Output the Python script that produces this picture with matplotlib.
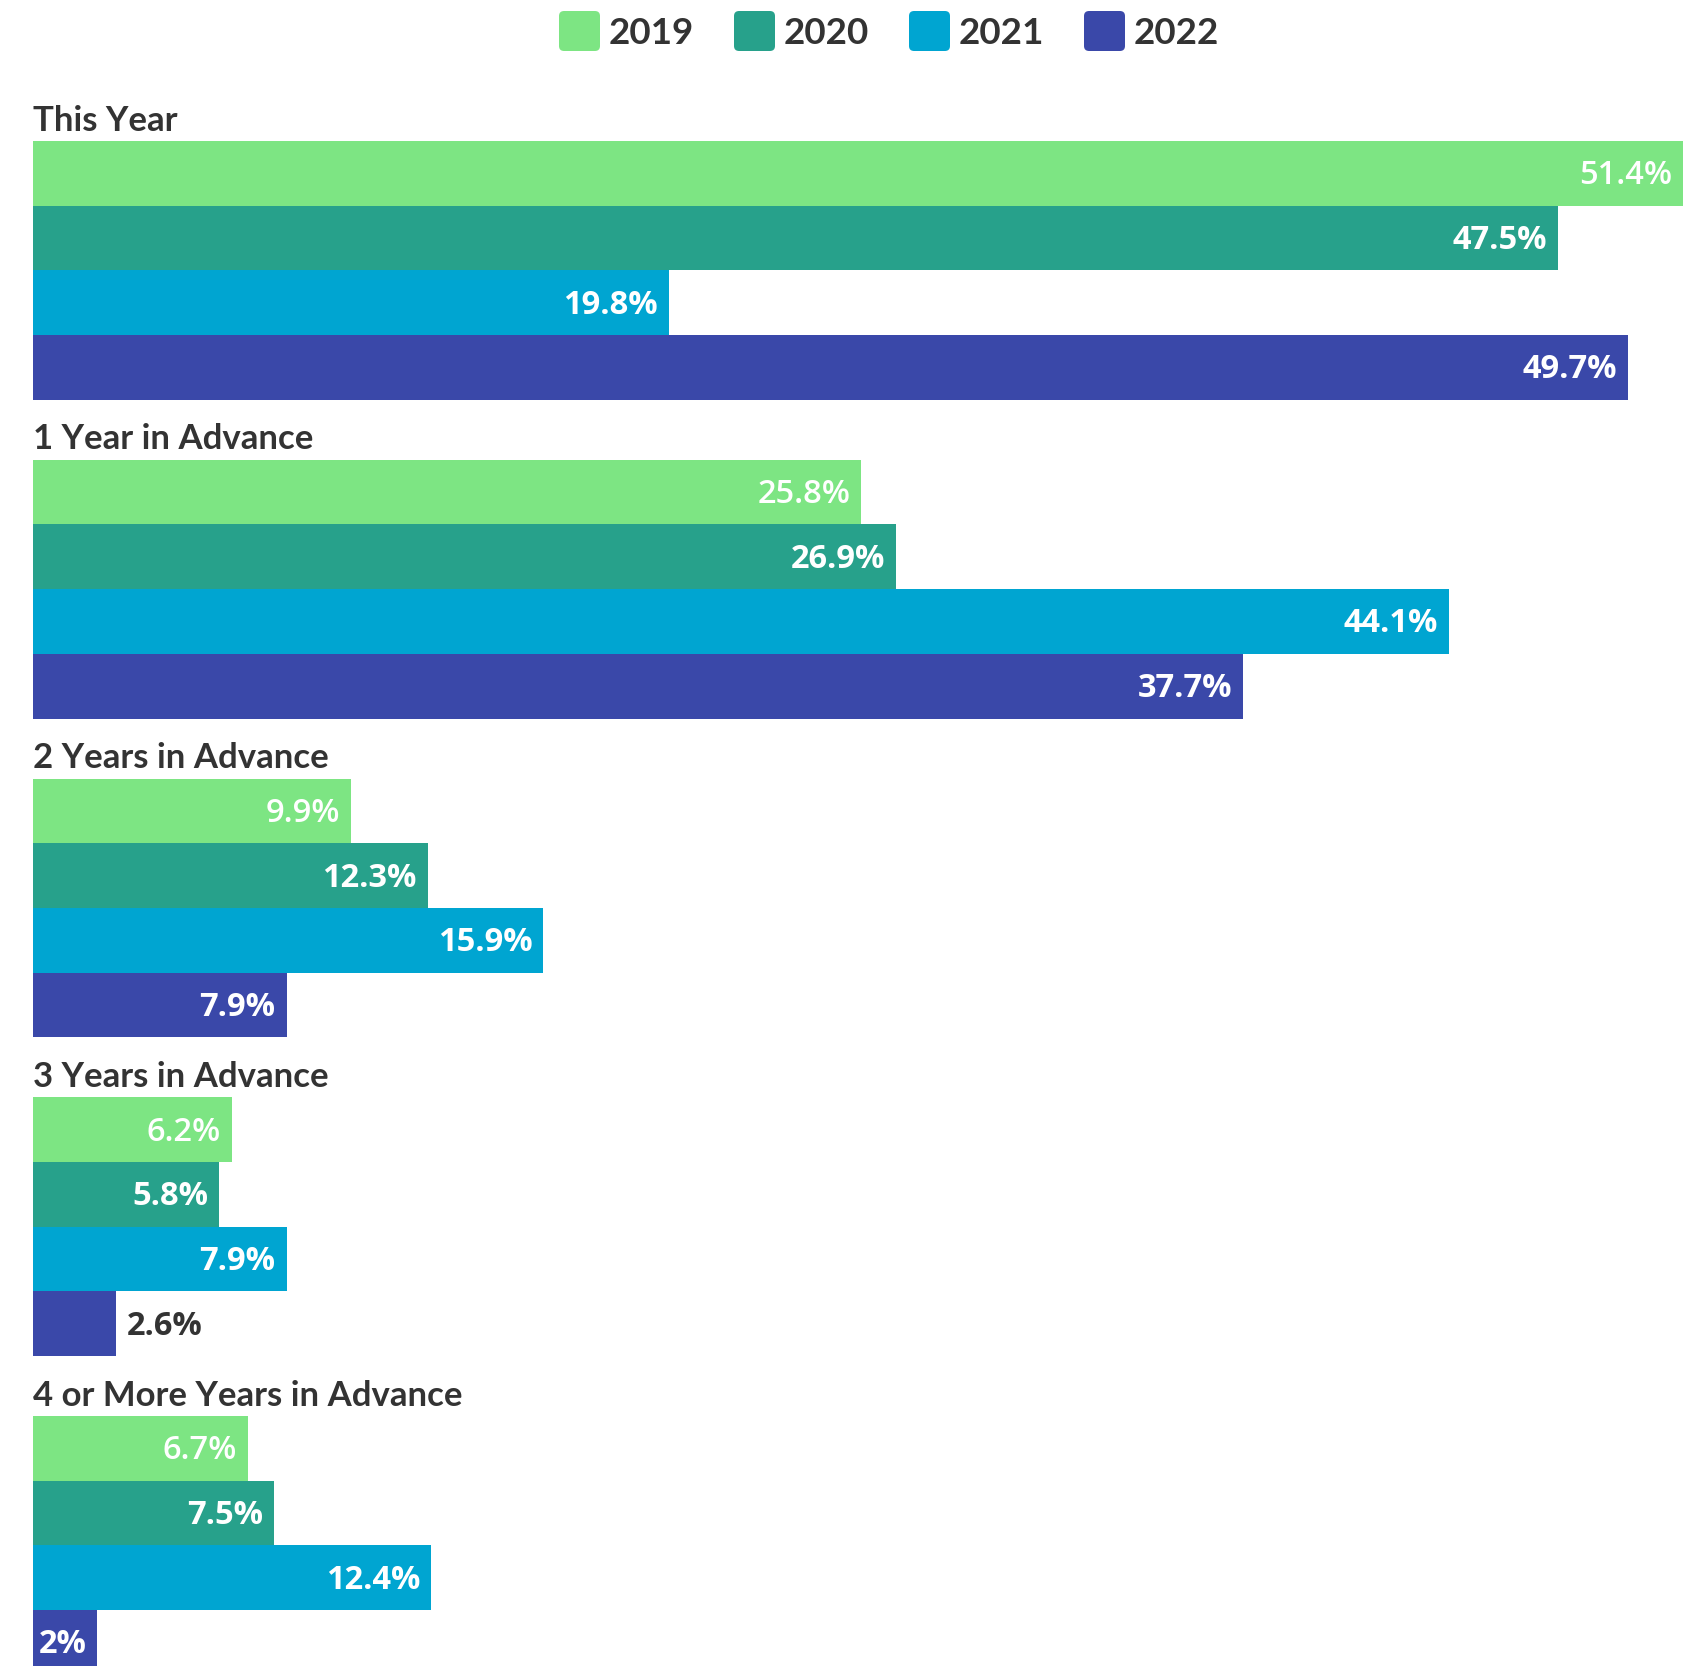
import numpy as np
import matplotlib.pyplot as plt
from matplotlib.patches import FancyBboxPatch

# booking horizon categories and shares per survey year
categories = ["This Year", "1 Year in Advance", "2 Years in Advance",
              "3 Years in Advance", "4 or More Years in Advance"]
years = ["2019", "2020", "2021", "2022"]
share_2019 = [51.4, 25.8, 9.9, 6.2, 6.7]
share_2020 = [47.5, 26.9, 12.3, 5.8, 7.5]
share_2021 = [19.8, 44.1, 15.9, 7.9, 12.4]
share_2022 = [49.7, 37.7, 7.9, 2.6, 2]
series = [share_2019, share_2020, share_2021, share_2022]
colors = ["#7de583", "#27a18b", "#00a5d1", "#3a48a9"]
label_weights = ["semibold", "bold", "bold", "bold"]

plt.rcParams['font.family'] = ['Lato', 'DejaVu Sans']
value_font = ['Open Sans', 'DejaVu Sans']
dark = "#333333"

W, H = 1699, 1666
fig = plt.figure(figsize=(W / 100, H / 100), dpi=100)

left_px, top_px = 33, 141
bar_px = 64.7
pitch = 318.75 / bar_px          # group spacing in bar units
ax = fig.add_axes([left_px / W, 0, 1 - left_px / W, 1 - top_px / H])
ax_h_units = (H - top_px) / bar_px
ax.set_ylim(ax_h_units, 0)
ax.set_xlim(0, (W - left_px) / 32.1)
ax.axis("off")

fig.canvas.draw()
renderer = fig.canvas.get_renderer()
px_per_unit = ax.get_window_extent().width / (ax.get_xlim()[1])

for g, cat in enumerate(categories):
    g0 = g * pitch
    ax.text(0, g0 - 0.16, cat, fontsize=25, fontweight="bold", color=dark,
            va="baseline", ha="left", clip_on=False)
    for i, vals in enumerate(series):
        v = vals[g]
        yc = g0 + i + 0.5
        ax.barh(yc, v, height=1.0, color=colors[i], edgecolor="none")
        label = f"{v:g}%"
        t = ax.text(v - 11 / px_per_unit, yc + 0.17, label, fontsize=23.5,
                    family=value_font, fontweight=label_weights[i],
                    color="white", ha="right", va="baseline")
        tw = t.get_window_extent(renderer).width
        # labels that don't fit inside the bar go just past its end
        if tw + 14 > v * px_per_unit:
            t.set_ha("left")
            t.set_x(v + 10 / px_per_unit)
            t.set_color(dark)
            t.set_fontweight("bold")

# legend across the top
leg_x = [559, 734, 909, 1084]
for x, yr, c in zip(leg_x, years, colors):
    fig.patches.append(FancyBboxPatch(
        (x / W, 1 - 51 / H), 41 / W, 40 / H,
        boxstyle="round,pad=0,rounding_size=0.003",
        transform=fig.transFigure, facecolor=c, edgecolor="none"))
    fig.text((x + 50) / W, 1 - 44 / H, yr, fontsize=26.5, fontweight="bold",
             color=dark, ha="left", va="baseline")

fig.savefig("out.png", dpi=100, facecolor="white")
